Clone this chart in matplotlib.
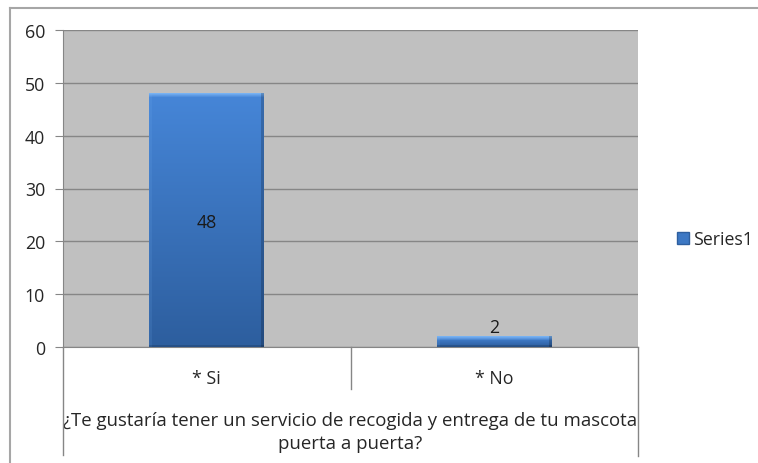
import numpy as np
import matplotlib
matplotlib.use("Agg")
import matplotlib.pyplot as plt
from matplotlib.colors import to_rgb
from matplotlib.patches import Patch

plt.rcParams['font.family'] = ['Open Sans', 'DejaVu Sans']

# datos de la encuesta
categorias = ['* Si', '* No']
respuestas = [48, 2]
serie = 'Series1'
pregunta = '¿Te gustaría tener un servicio de recogida y entrega de tu mascota\npuerta a puerta?'

W, H = 758, 464
fig = plt.figure(figsize=(W / 100, H / 100), dpi=100)
fig.patch.set_facecolor('white')

# area del grafico (en pixeles)
x0, x1, y0, y1 = 63, 638, 31, 348
ax = fig.add_axes([x0 / W, 1 - y1 / H, (x1 - x0) / W, (y1 - y0) / H])
ax.set_facecolor('#c0c0c0')

gris = '#868686'
texto = '#262626'
fs = 12.8

x = np.arange(len(categorias))
barras = ax.bar(x, respuestas, width=0.4, color='#3d78c4', edgecolor='none', zorder=3)

ax.set_xlim(-0.5, len(categorias) - 0.5)
ax.set_ylim(0, 60)
ax.set_yticks(range(0, 61, 10))
ax.yaxis.grid(True, color=gris, linewidth=1.0, zorder=0)
ax.set_axisbelow(True)

for s in ['top', 'right']:
    ax.spines[s].set_visible(False)
ax.spines['left'].set_color(gris)
ax.spines['bottom'].set_color(gris)
ax.tick_params(axis='y', length=6, color=gris, labelsize=fs, labelcolor=texto, pad=7)
ax.set_xticks(x)
ax.set_xticklabels(categorias, fontsize=fs, color=texto)
ax.tick_params(axis='x', length=0, pad=16)
ax.set_xlabel(pregunta, fontsize=13.4, color=texto, labelpad=17, linespacing=1.4)

# degradado con bisel para cada barra
fig.canvas.draw()
arriba = np.array(to_rgb('#4686d8'))
abajo = np.array(to_rgb('#2d5e9e'))
claro = np.array(to_rgb('#78b2f2'))
for b in barras:
    bx, by = b.get_x(), b.get_y()
    bw, bh = b.get_width(), b.get_height()
    p0 = ax.transData.transform((bx, by))
    p1 = ax.transData.transform((bx + bw, by + bh))
    nc = max(int(round(p1[0] - p0[0])), 2)
    nr = max(int(round(p1[1] - p0[1])), 2)
    t = np.linspace(0, 1, nr)[:, None, None]
    img = arriba * (1 - t) + abajo * t
    img = np.repeat(img, nc, axis=1)
    nb = min(4, nr // 3 + 1)
    for k in range(nb):
        a = 1 - k / nb
        img[k] = img[k] * (1 - a) + claro * a
    img[:, :3] = img[:, :3] * 0.88 + 0.12 * claro
    img[:, -3:] = img[:, -3:] * 0.8
    img[-2:] = img[-2:] * 0.85
    im = ax.imshow(img, extent=(bx, bx + bw, by, by + bh), origin='upper',
                   aspect='auto', zorder=4, interpolation='bilinear')
    im.set_clip_path(b)
ax.set_xlim(-0.5, len(categorias) - 0.5)
ax.set_ylim(0, 60)

# etiquetas de valor
ax.text(x[0], respuestas[0] / 2, str(respuestas[0]), ha='center', va='center_baseline',
        fontsize=fs, color='#1a1a1a', zorder=5)
ax.annotate(str(respuestas[1]), (x[1], respuestas[1]), xytext=(0, 8),
            textcoords='offset points', ha='center', va='center_baseline',
            fontsize=fs, color='#1a1a1a', zorder=5)

# lineas separadoras de categorias bajo el eje
tr = ax.get_xaxis_transform()
unidad = y1 - y0
for xs, fondo in [(-0.5, 456), (0.5, 390), (1.5, 457)]:
    ax.plot([xs, xs], [0, -(fondo - y1) / unidad], transform=tr, color=gris,
            linewidth=1.0, clip_on=False)

# borde exterior del grafico
fig.add_artist(plt.Line2D([9.5 / W, 1], [1 - 9 / H, 1 - 9 / H], color='#a6a6a6', linewidth=1.5))
fig.add_artist(plt.Line2D([9.5 / W, 9.5 / W], [0, 1 - 9 / H], color='#a6a6a6', linewidth=1.5))

# leyenda
fig.legend(handles=[Patch(facecolor='#3d78c4', edgecolor='#2e5f9f', label=serie)],
           loc='center left', bbox_to_anchor=(668 / W, 1 - 240 / H), frameon=False,
           fontsize=fs, handlelength=0.7, handleheight=0.7, handletextpad=0.2,
           labelcolor=texto, borderpad=0)

fig.savefig('out.png', dpi=100)
